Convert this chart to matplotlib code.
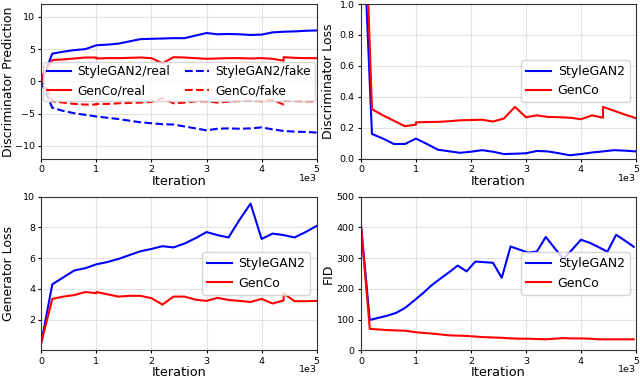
import matplotlib
matplotlib.use("Agg")
import matplotlib.pyplot as plt

# iterations (GenCo run has two restarts -> repeated x values)
it_sg = [0, 200, 400, 600, 800, 1000, 1200, 1400, 1600, 1800, 2000, 2200, 2400,
         2600, 2800, 3000, 3200, 3400, 3600, 3800, 4000, 4200, 4400, 4600, 4800, 5000]
it_gc = [0, 200, 400, 600, 800, 1000, 1000, 1200, 1400, 1600, 1800, 2000, 2200, 2400,
         2600, 2800, 3000, 3200, 3400, 3600, 3800, 4000, 4200, 4400, 4400, 4600, 4800, 5000]

# discriminator prediction
sg_real = [-0.1, 4.3, 4.6, 4.85, 5.0, 5.6, 5.7, 5.85, 6.2, 6.55, 6.6, 6.65, 6.7,
           6.7, 7.1, 7.5, 7.3, 7.35, 7.3, 7.2, 7.25, 7.6, 7.7, 7.75, 7.85, 7.9]
sg_fake = [-0.1, -4.1, -4.6, -4.95, -5.2, -5.45, -5.65, -5.85, -6.1, -6.35, -6.5, -6.65, -6.7,
           -7.0, -7.3, -7.6, -7.35, -7.3, -7.35, -7.3, -7.15, -7.45, -7.7, -7.8, -7.85, -7.95]
gc_real = [0.6, 3.3, 3.4, 3.55, 3.7, 3.7, 3.55, 3.6, 3.6, 3.65, 3.7, 3.6, 2.8, 3.75,
           3.7, 3.6, 3.5, 3.55, 3.6, 3.6, 3.55, 3.6, 3.5, 3.2, 3.75, 3.65, 3.6, 3.6]
gc_fake = [0.6, -3.1, -3.3, -3.5, -3.6, -3.6, -3.5, -3.5, -3.4, -3.35, -3.3, -3.2, -2.6, -3.4,
           -3.3, -3.1, -3.1, -3.3, -3.15, -3.05, -3.0, -3.1, -2.85, -3.6, -3.05, -3.05, -3.1, -3.1]

# discriminator loss
sg_dloss = [1.84, 0.16, 0.13, 0.095, 0.095, 0.13, 0.095, 0.058, 0.048, 0.038, 0.045, 0.055, 0.045,
            0.03, 0.032, 0.035, 0.05, 0.047, 0.035, 0.022, 0.03, 0.04, 0.047, 0.055, 0.052, 0.047]
gc_dloss = [2.36, 0.32, 0.28, 0.245, 0.21, 0.22, 0.235, 0.237, 0.238, 0.242, 0.248, 0.25, 0.252, 0.24,
            0.26, 0.335, 0.268, 0.28, 0.27, 0.268, 0.265, 0.255, 0.28, 0.265, 0.335, 0.31, 0.285, 0.262]

# generator loss
sg_gloss = [0.5, 4.3, 4.75, 5.2, 5.35, 5.6, 5.75, 5.95, 6.2, 6.45, 6.6, 6.78, 6.7,
            6.95, 7.3, 7.7, 7.5, 7.35, 8.5, 9.55, 7.25, 7.6, 7.5, 7.35, 7.7, 8.1]
gc_gloss = [0.5, 3.35, 3.5, 3.6, 3.8, 3.72, 3.8, 3.65, 3.5, 3.55, 3.55, 3.4, 2.98, 3.5,
            3.5, 3.3, 3.22, 3.42, 3.28, 3.22, 3.15, 3.35, 3.05, 3.25, 3.7, 3.2, 3.2, 3.22]

# FID (evaluated every 160 iterations)
it_fid = [i * 160 for i in range(32)]
sg_fid = [408, 99, 106, 113, 122, 138, 161, 185, 211, 233, 254, 276, 257, 289, 287, 285,
          236, 338, 328, 318, 322, 369, 333, 297, 328, 360, 350, 336, 321, 376, 357, 337]
gc_fid = [408, 70, 68, 66, 65, 64, 60, 57, 55, 52, 49, 48, 47, 45, 43, 42,
          41, 39, 38, 38, 37, 36, 38, 40, 39, 39, 38, 36, 36, 36, 36, 36]

fig = plt.figure(figsize=(6.4, 3.79), dpi=100)
ax1 = fig.add_axes([0.0645, 0.5813, 0.4303, 0.4081])
ax2 = fig.add_axes([0.564, 0.5813, 0.4297, 0.4081])
ax3 = fig.add_axes([0.0645, 0.0755, 0.4303, 0.4055])
ax4 = fig.add_axes([0.564, 0.0755, 0.4297, 0.4055])

leg_kw = dict(fontsize=9, handletextpad=0.5, borderpad=0.4)

ax1.plot(it_sg, sg_real, c='blue', lw=1.5, label='StyleGAN2/real')
ax1.plot(it_gc, gc_real, c='red', lw=1.5, label='GenCo/real')
ax1.plot(it_sg, sg_fake, c='blue', lw=1.5, ls='--', label='StyleGAN2/fake')
ax1.plot(it_gc, gc_fake, c='red', lw=1.5, ls='--', label='GenCo/fake')
ax1.set_ylim(-12, 12)
ax1.set_yticks([-10, -5, 0, 5, 10])
ax1.set_ylabel('Discriminator Prediction')
ax1.legend(loc='center', ncol=2, columnspacing=1.2, fontsize=8.8,
           handletextpad=0.5, borderpad=0.3, borderaxespad=0.3)

ax2.plot(it_sg, sg_dloss, c='blue', lw=1.5, label='StyleGAN2')
ax2.plot(it_gc, gc_dloss, c='red', lw=1.5, label='GenCo')
ax2.set_ylim(0, 1)
ax2.set_ylabel('Discriminator Loss')
ax2.legend(loc='center right', **leg_kw)

ax3.plot(it_sg, sg_gloss, c='blue', lw=1.5, label='StyleGAN2')
ax3.plot(it_gc, gc_gloss, c='red', lw=1.5, label='GenCo')
ax3.set_ylim(0, 10)
ax3.set_yticks([2, 4, 6, 8, 10])
ax3.set_ylabel('Generator Loss')
ax3.legend(loc='center right', **leg_kw)

ax4.plot(it_fid, sg_fid, c='blue', lw=1.5, label='StyleGAN2')
ax4.plot(it_fid, gc_fid, c='red', lw=1.5, label='GenCo')
ax4.set_ylim(0, 500)
ax4.set_ylabel('FID')
ax4.legend(loc='center right', **leg_kw)

for ax in [ax1, ax2, ax3, ax4]:
    ax.set_xlim(0, 5000)
    ax.set_xticks([0, 1000, 2000, 3000, 4000, 5000])
    ax.set_xticklabels(['0', '1', '2', '3', '4', '5'])
    ax.text(1.0, -0.127, '1e3', transform=ax.transAxes, ha='right', va='center', fontsize=6.8)
    ax.tick_params(labelsize=6.8, length=2.5, pad=2)
    ax.grid(True, color='#e2e2e2', lw=0.8)
    ax.set_axisbelow(True)
    ax.set_xlabel('Iteration', fontsize=9.3, labelpad=0.5)
    ax.yaxis.label.set_size(9)
    ax.yaxis.set_label_coords(-0.094, 0.5)
    for s in ax.spines.values():
        s.set_color('#333333')

fig.savefig('out.png', dpi=100)
